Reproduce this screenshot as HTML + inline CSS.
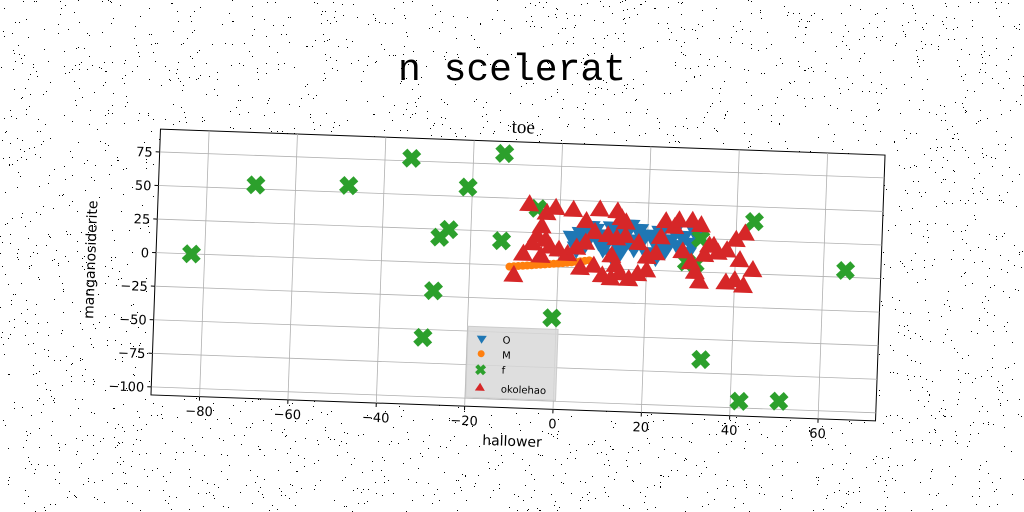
<!DOCTYPE html>
<html><head><meta charset="utf-8"><style>
html,body{margin:0;padding:0;background:#fff;}
svg{display:block;}
text{font-family:"DejaVu Sans","Liberation Sans",sans-serif;}
</style></head><body>
<svg id="chart" width="1024" height="512" viewBox="0 0 1024 512" xmlns="http://www.w3.org/2000/svg">
<g id="noise"></g>
<text x="512" y="80" text-anchor="middle" font-size="38" style="font-family:'Liberation Mono',monospace">n scelerat</text>
<g id="plot" transform="rotate(2.05 518 275)">
<rect x="155.5" y="142" width="725" height="266" fill="#fff" stroke="#000" stroke-width="1"/>
<g id="grid"></g>
<g id="marks"></g>
<g id="ticks"></g>
<text x="518" y="133" text-anchor="middle" font-size="19" style="font-family:'Liberation Serif',serif">toe</text>
<text x="518" y="446" text-anchor="middle" font-size="14">hallower</text>
<text transform="translate(95 275) rotate(-90)" text-anchor="middle" font-size="14">manganosiderite</text>
<g id="legend">
<rect x="470" y="328" width="90" height="71" fill="#d8d8d8" fill-opacity="0.85" stroke="#ccc"/>
<g><path d="M479,337 L489,337 L484,345 Z" fill="#1f77b4"/><text x="505" y="344" font-size="10">O</text></g>
<g><circle cx="484" cy="355" r="3.5" fill="#ff7f0e"/><text x="505" y="359" font-size="10">M</text></g>
<g><path d="M480,367 L488,375 M488,367 L480,375" stroke="#2ca02c" stroke-width="4"/><text x="505" y="374" font-size="10">f</text></g>
<g><path d="M479,392 L489,392 L484,384 Z" fill="#d62728"/><text x="505" y="393" font-size="10">okolehao</text></g>
</g>
</g>
</svg>
<script>
const xTicks=[-80,-60,-40,-20,0,20,40,60];
const yTicks=[-100,-75,-50,-25,0,25,50,75];
const oData=[[3,22],[5,25],[6,18],[8,28],[9,20],[10,15],[11,24],[12,30],[13,19],[14,13],[15,26],[16,21],[17,16],[18,29],[19,23],[20,12],[21,25],[22,19],[23,28],[24,15],[25,22],[26,30],[27,18],[28,25],[29,13],[30,20],[31,28],[7,30],[16,32],[22,10],[12,10],[4,14]];
const mData=[[-11,-1],[-10,-0.6],[-9,-0.3],[-8,0],[-7,0.3],[-6,0.6],[-5,1],[-4,1.3],[-3,1.6],[-2,2],[-1,2.3],[0,2.6],[1,3],[2,3.4],[3,3.8],[4,4.3],[5,4.8],[6,5.3],[7,5.8]];
const fData=[[-83,0],[-69,53],[-48,55],[-34,77],[-21,57],[-13,83],[-5,43],[-25,25],[-27,19],[-13,18],[-28,-21],[-30,-56],[-1,-38],[33,-65],[42,-95],[51,-94],[65,5],[44,39],[31,6],[29,7],[32,25]];
const okData=[[-7,46],[-3,40],[-1,44],[3,43],[9,44],[13,43],[14,38],[-4,30],[-5,23],[-6,17],[-3,20],[-2,15],[-8,9],[-4,8],[0,13],[2,10],[4,15],[6,19],[8,27],[11,25],[13,23],[15,25],[12,10],[13,3],[8,2],[10,-5],[12,-7],[14,-3],[16,-7],[18,-3],[20,10],[22,13],[23,25],[24,37],[26,33],[27,38],[30,38],[32,35],[28,15],[30,7],[31,0],[32,-7],[33,13],[35,20],[36,15],[38,17],[40,25],[42,30],[41,10],[40,-5],[42,-9],[38,-7],[44,3],[34,20],[18,20],[20,0],[5,0],[-10,-7],[15,35],[6,35]];
const NS='http://www.w3.org/2000/svg';
const X0=155.5,W=725,Y0=142,H=266,xmin=-91,xmax=73,ymin=-106,ymax=92;
const sx=v=>X0+(v-xmin)/(xmax-xmin)*W;
const sy=v=>Y0+(ymax-v)/(ymax-ymin)*H;
function mk(tag,attrs,parent){const e=document.createElementNS(NS,tag);for(const k in attrs)e.setAttribute(k,attrs[k]);parent.appendChild(e);return e;}
const grid=document.getElementById('grid'),ticks=document.getElementById('ticks'),marks=document.getElementById('marks');
xTicks.forEach(t=>{const x=sx(t);
 const g=mk('line',{x1:x,x2:x,y1:Y0,y2:Y0+H,stroke:'#b0b0b0','stroke-width':0.8},grid);
 
 mk('line',{x1:x,x2:x,y1:Y0+H,y2:Y0+H+4,stroke:'#000'},ticks);
 const l=mk('text',{x:x,y:Y0+H+19,'text-anchor':'middle','font-size':13},ticks);l.textContent=t<0?'\u2212'+(-t):t;
 });
yTicks.forEach(t=>{const y=sy(t);
 const g=mk('line',{x1:X0,x2:X0+W,y1:y,y2:y,stroke:'#b0b0b0','stroke-width':0.8},grid);
 
 mk('line',{x1:X0-4,x2:X0,y1:y,y2:y,stroke:'#000'},ticks);
 const l=mk('text',{x:X0-7,y:y+5,'text-anchor':'end','font-size':13},ticks);l.textContent=t<0?'\u2212'+(-t):t;
 });
mData.forEach(d=>{const e=mk('circle',{cx:sx(d[0]),cy:sy(d[1]),r:4,fill:'#ff7f0e'},marks);
 });
oData.forEach(d=>{const x=sx(d[0]),y=sy(d[1]);const e=mk('path',{d:`M${x-10},${y-7} L${x+10},${y-7} L${x},${y+10} Z`,fill:'#1f77b4'},marks);
 });
fData.forEach(d=>{const x=sx(d[0]),y=sy(d[1]);const s=7;
 const e=mk('path',{d:`M${x-s},${y-s} L${x+s},${y+s} M${x+s},${y-s} L${x-s},${y+s}`,stroke:'#2ca02c','stroke-width':7},marks);
 });
okData.forEach(d=>{const x=sx(d[0]),y=sy(d[1]);const e=mk('path',{d:`M${x-10},${y+7} L${x+10},${y+7} L${x},${y-10} Z`,fill:'#d62728'},marks);
 });
// background speckle noise (decorative)
let seed=12345;const rnd=()=>{seed=(seed*1103515245+12345)%2147483648;return seed/2147483648;};
const noise=document.getElementById('noise');let p='';
for(let i=0;i<3500;i++){const x=Math.floor(rnd()*1024),y=Math.floor(rnd()*512);p+=`M${x},${y}h1v1h-1z`;}
mk('path',{d:p,fill:'#000'},noise);
</script>
</body></html>
